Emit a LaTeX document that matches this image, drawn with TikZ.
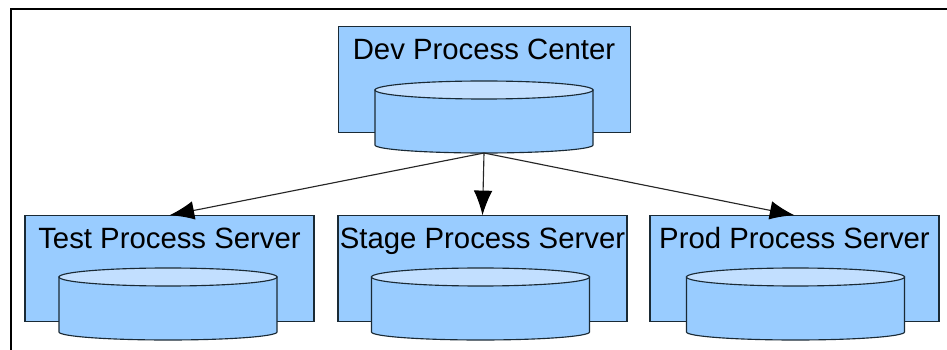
\documentclass[tikz,border=0pt]{standalone}
\usepackage{fontspec}
\setmainfont{Liberation Sans}
\usetikzlibrary{arrows.meta}
\definecolor{boxblue}{HTML}{99CCFF}
\definecolor{topblue}{HTML}{C2DFFF}
\definecolor{edgegray}{HTML}{1A2A35}
\tikzset{
  serverbox/.style = {draw = edgegray, fill = boxblue, minimum width = 216.75pt, minimum height = 79pt, inner sep = 0pt},
  serverdb/.style = {minimum width = 163.5pt, minimum height = 54pt, inner sep = 0pt, outer sep = 0pt},
  drum/.style = {draw = edgegray, fill = boxblue},
  drumtop/.style = {draw = edgegray, fill = topblue, x radius = 81.75pt, y radius = 6.75pt},
  boxlabel/.style = {anchor = base, font = \fontsize{22}{26}\selectfont, inner sep = 0pt},
  fanout/.style = {draw = black!85, -{Latex[length = 18.5pt, width = 14pt, black]}}
}
\newcommand{\dbdrum}[2]{
  \node[serverdb] (#1) at (#2) {};
  \draw[drum] ([yshift = -6.75pt]#1.north west) -- ([yshift = 6pt]#1.south west)
    arc[start angle = 180, end angle = 360, x radius = 81.75pt, y radius = 6pt]
    -- ([yshift = -6.75pt]#1.north east) -- cycle;
  \draw[drumtop] ([yshift = -6.75pt]#1.north) ellipse [];
}
\begin{document}
\begin{tikzpicture}
        [x = .75pt, y = .75pt, line width = .85pt]

        \useasboundingbox (0,0) rectangle (947,350);
        \coordinate (framecorner) at (11,341);
        \coordinate (frameend) at (947,341);
        \draw[line width = 1pt] (11,0) -- (framecorner) -- (frameend);

        \node[serverbox, minimum width = 219pt] (devbox) at (484.5,270.5) {};
        \node[boxlabel] (devlabel) at (484,290) {Dev Process Center};
        \dbdrum{devdb}{484,233}

        \foreach \name/\bx/\dx/\txt in {test/169.5/168/Test, stage/482.5/480.5/Stage, prod/794.5/795.5/Prod}
        {
          \node[serverbox] (\name box) at (\bx,81.5) {};
          \node[boxlabel] (\name label) at (\bx,101) {\txt{} Process Server};
          \dbdrum{\name db}{\dx,46}
          \draw[fanout] (devdb.south) -- (\name box.north);
        }
      \end{tikzpicture}
\end{document}
